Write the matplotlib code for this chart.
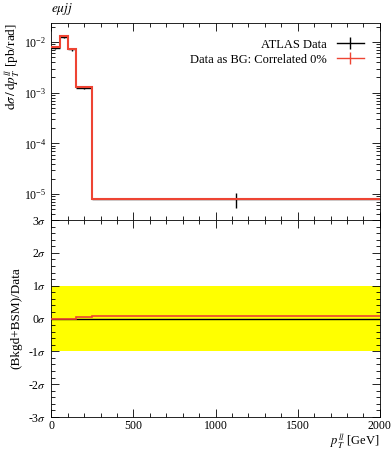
import matplotlib
matplotlib.use('Agg')
import matplotlib.pyplot as plt
import matplotlib.ticker as ticker
from matplotlib.lines import Line2D
import numpy as np

plt.rcParams['font.family'] = ['Liberation Serif', 'DejaVu Serif']
plt.rcParams['mathtext.fontset'] = 'stix'

# binning and values
bin_edges = [0, 50, 100, 150, 250, 2000]
data_vals = [7.7e-3, 1.28e-2, 7.2e-3, 1.26e-3, 7.9e-6]
data_errs = [0.5e-3, 0.9e-3, 0.5e-3, 0.1e-3, 2.5e-6]
mc_vals = [8.0e-3, 1.32e-2, 7.2e-3, 1.31e-3, 7.9e-6]
ratio_data = [0.0, 0.0, 0.0, 0.0, 0.0]
ratio_mc = [0.0, 0.0, 0.0, 0.06, 0.07]
sigma_ticks = [-3, -2, -1, 0, 1, 2, 3]

red = '#ee4433'
edges = np.array(bin_edges)
centers = 0.5 * (edges[1:] + edges[:-1])
halfw = 0.5 * (edges[1:] - edges[:-1])

fig = plt.figure(figsize=(3.92, 4.5), dpi=100)
ax1 = fig.add_axes([0.131, 0.511, 0.838, 0.438])
ax2 = fig.add_axes([0.131, 0.0733, 0.838, 0.4377])

for ax in [ax1, ax2]:
    ax.tick_params(which='both', direction='in', top=True, right=True, labelsize=8.5)
    ax.tick_params(which='major', length=6, width=0.6)
    ax.tick_params(which='minor', length=3, width=0.6)
    for s in ax.spines.values():
        s.set_linewidth(0.6)
    ax.set_xlim(0, 2000)
    ax.xaxis.set_major_locator(ticker.MultipleLocator(500))
    ax.xaxis.set_minor_locator(ticker.MultipleLocator(100))

# top panel
ax1.errorbar(centers, data_vals, xerr=halfw, yerr=data_errs, fmt='none', ecolor='black', elinewidth=1, zorder=2)
ax1.stairs(mc_vals, edges, baseline=None, color=red, lw=1.5, zorder=3)
ax1.set_yscale('log')
ax1.set_ylim(10**-5.51, 10**-1.625)
ax1.tick_params(labelbottom=False)
ax1.set_ylabel(r'$\mathrm{d}\sigma\,/\,\mathrm{d}p_T^{ll}$ [pb/rad]', fontsize=9.5, loc='top')
ax1.text(0, 1.03, r'$e\mu jj$', transform=ax1.transAxes, fontsize=9.5, ha='left', va='bottom')

h_data = Line2D([], [], color='black', lw=1, marker='|', markersize=9, markeredgewidth=1)
h_mc = Line2D([], [], color=red, lw=1, marker='|', markersize=9, markeredgewidth=1)
ax1.legend([h_data, h_mc], ['ATLAS Data', 'Data as BG: Correlated 0%'], loc='upper right',
           frameon=False, markerfirst=False, fontsize=9, handlelength=2.2, numpoints=1,
           borderaxespad=0.85, labelspacing=0.25)

# ratio panel
ax2.axhspan(-1, 1, color='#ffff00', lw=0, zorder=1)
ax2.stairs(ratio_data, edges, baseline=None, color='black', lw=1, zorder=2)
ax2.stairs(ratio_mc, edges, baseline=None, color=red, lw=1.2, zorder=3)
ax2.set_ylim(-3, 3)
ax2.set_yticks(sigma_ticks)
ax2.set_yticklabels([f'{v}' + r'$\sigma$' for v in sigma_ticks])
ax2.yaxis.set_minor_locator(ticker.MultipleLocator(0.2))
ax2.tick_params(axis='x', which='major', pad=2)
ax2.set_ylabel('(Bkgd+BSM)/Data', fontsize=9.5)
ax2.set_xlabel(r'$p_T^{ll}$ [GeV]', fontsize=9, loc='right')

ax1.yaxis.set_label_coords(-0.088, 1.0)
ax2.yaxis.set_label_coords(-0.088, 0.5)
ax2.xaxis.set_label_coords(1.0, -0.075)
fig.savefig('out.png', dpi=100)
